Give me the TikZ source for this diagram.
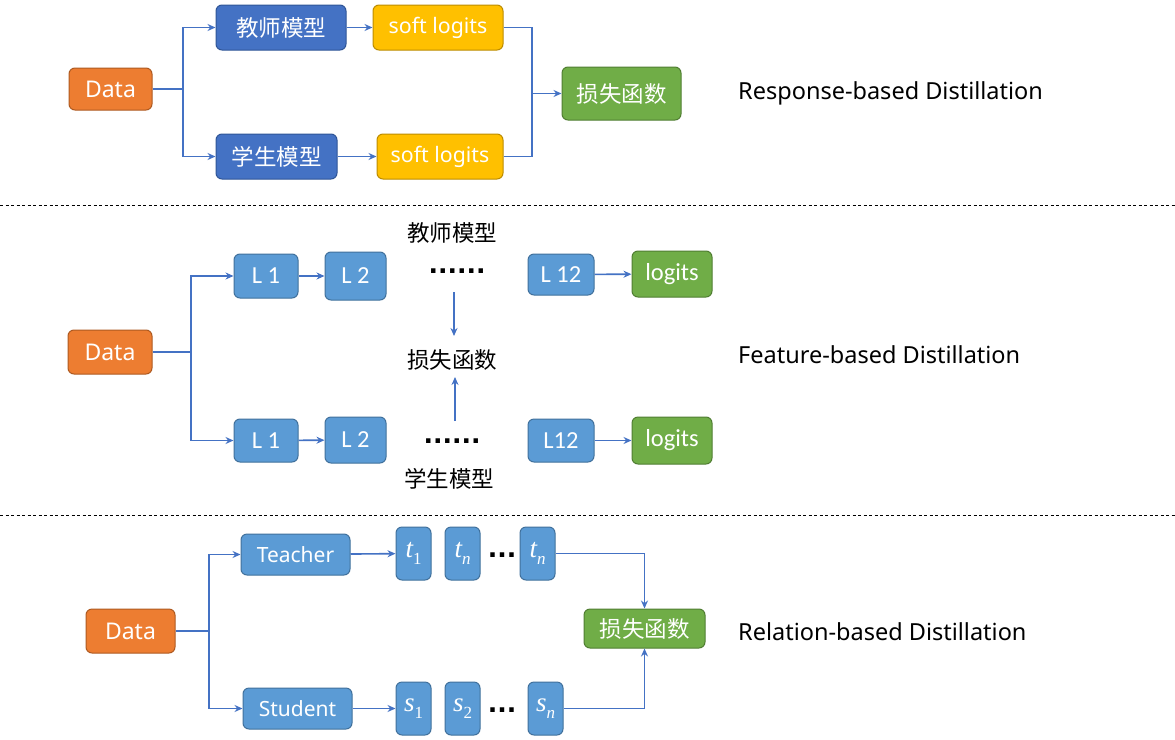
\documentclass[tikz,border=0pt]{standalone}
\usepackage{fontspec}
\setmainfont{Noto Sans}
\newfontfamily\cjk{Noto Sans CJK SC}
\newfontfamily\carl{Carlito}
\newfontfamily\dvb{DejaVu Sans}
\newfontfamily\lsr{Liberation Serif}
\newcommand\mvar[2]{{\lsr\itshape #1}\raisebox{-0.28em}{\fontsize{17}{18}\selectfont\lsr #2}}
\usetikzlibrary{arrows.meta}
\definecolor{lnblue}{HTML}{4472C4}
\definecolor{dkblue}{HTML}{4472C4}
\definecolor{dkblueb}{HTML}{2F5597}
\definecolor{ltblue}{HTML}{5B9BD5}
\definecolor{ltblueb}{HTML}{41719C}
\definecolor{orng}{HTML}{ED7D31}
\definecolor{orngb}{HTML}{AE5A21}
\definecolor{yell}{HTML}{FFC000}
\definecolor{yellb}{HTML}{BC8C00}
\definecolor{grn}{HTML}{70AD47}
\definecolor{grnb}{HTML}{507E32}
\tikzset{
  box/.style={rounded corners=6pt, line width=1pt, text=white, inner sep=0pt, align=center},
  obox/.style={box, fill=orng, draw=orngb, font=\fontsize{23}{26}\selectfont},
  dbox/.style={box, fill=dkblue, draw=dkblueb, font=\cjk\fontsize{22.5}{25}\selectfont},
  ybox/.style={box, fill=yell, draw=yellb, font=\fontsize{21.3}{24}\selectfont},
  gbox/.style={box, fill=grn, draw=grnb, font=\cjk\fontsize{22.5}{25}\selectfont},
  lbox/.style={box, fill=ltblue, draw=ltblueb, font=\carl\fontsize{24.5}{27}\selectfont},
  lgbox/.style={box, fill=grn, draw=grnb, font=\carl\fontsize{24.5}{27}\selectfont},
  mbox/.style={box, fill=ltblue, draw=ltblueb, font=\fontsize{27}{28}\selectfont},
  conn/.style={draw=lnblue, line width=1.6pt},
  arr/.style={conn, -{Stealth[length=8pt,width=7pt]}},
  ttl/.style={font=\fontsize{23.5}{26}\selectfont, anchor=west, inner sep=0pt},
  clab/.style={font=\cjk\fontsize{22.5}{25}\selectfont, inner sep=0pt},
  dots/.style={font=\dvb\bfseries\fontsize{25}{28}\selectfont, inner sep=0pt, anchor=base},
  sep/.style={draw=black, line width=0.8pt, dash pattern=on 3pt off 2.5pt}
}
\begin{document}
\begin{tikzpicture}[x=1pt,y=-1pt]
\useasboundingbox (0,0) rectangle (1175,739);
\fill[white] (0,0) rectangle (1175,739);

% ---------- Response-based ----------
\node[obox, minimum width=83pt, minimum height=42pt] (d1) at (110.5,89) {Data};
\node[dbox, minimum width=130pt, minimum height=45pt] (te1) at (281,27.5) {教师模型};
\node[ybox, minimum width=130pt, minimum height=45pt] (so1) at (438,27.5) {soft logits};
\node[dbox, minimum width=121pt, minimum height=45pt] (st1) at (276.5,156.5) {学生模型};
\node[ybox, minimum width=126pt, minimum height=45pt] (so2) at (440,156.5) {soft logits};
\node[gbox, minimum width=119pt, minimum height=53pt] (lo1) at (621.5,93.5) {损失函数};
\node[ttl] (r1) at (738,93) {Response-based Distillation};
\coordinate (j1) at (183,89);
\coordinate (j2) at (532,93.5);
\draw[conn] (d1.east) -- (j1);
\draw[arr] (j1) |- (te1.west);
\draw[arr] (j1) |- (st1.west);
\draw[arr] (te1) -- (so1);
\draw[arr] (st1) -- (so2);
\draw[conn] (so1.east) -| (j2);
\draw[conn] (so2.east) -| (j2);
\draw[arr] (j2) -- (lo1.west);

\draw[sep] (0,205) -- (1175,205);

% ---------- Feature-based ----------
\node[obox, minimum width=84pt, minimum height=44pt] (d2) at (110,352) {Data};
\coordinate (j3) at (191,352);
\node[lbox, minimum width=64pt, minimum height=44pt] (l1a) at (266,276) {L 1};
\node[lbox, minimum width=61pt, minimum height=48pt] (l2a) at (355.5,276) {L 2};
\node[dots] (dA) at (457,273) {......};
\node[lbox, minimum width=66pt, minimum height=41pt] (l12a) at (561,274.5) {L 12};
\node[lgbox, minimum width=80pt, minimum height=46pt] (lga) at (672,274) {logits};
\node[clab] (tm) at (452,233) {教师模型};
\node[clab] (lm) at (452,360) {损失函数};
\node[clab] (sm) at (449,479) {学生模型};
\node[lbox, minimum width=64pt, minimum height=43pt] (l1b) at (266,440.5) {L 1};
\node[lbox, minimum width=61pt, minimum height=46pt] (l2b) at (355.5,440) {L 2};
\node[dots] (dB) at (452,443) {......};
\node[lbox, minimum width=66pt, minimum height=43pt] (l12b) at (561,440.5) {L12};
\node[lgbox, minimum width=80pt, minimum height=47pt] (lgb) at (672,440.5) {logits};
\node[ttl] (r2) at (738,355) {Feature-based Distillation};
\coordinate (m1) at (454,292);
\coordinate (m2) at (454,336);
\coordinate (m3) at (455,421);
\coordinate (m4) at (455,377);
\draw[conn] (d2.east) -- (j3);
\draw[arr] (j3) |- (l1a.west);
\draw[arr] (j3) |- (l1b.west);
\draw[arr] (l1a) -- (l2a);
\draw[arr] (l1b) -- (l2b);
\draw[arr] (l12a) -- (lga);
\draw[arr] (l12b) -- (lgb);
\draw[arr] (m1) -- (m2);
\draw[arr] (m3) -- (m4);

\draw[sep] (0,515) -- (1175,515);

% ---------- Relation-based ----------
\node[obox, minimum width=89pt, minimum height=44pt] (d3) at (130.5,631) {Data};
\coordinate (j5) at (209,631);
\node[lbox, minimum width=109pt, minimum height=41pt, font=\fontsize{21}{24}\selectfont] (te3) at (295.5,554.5) {Teacher};
\node[lbox, minimum width=109pt, minimum height=41pt, font=\fontsize{21}{24}\selectfont] (st3) at (297.5,708.5) {Student};
\node[mbox, minimum width=35pt, minimum height=53pt] (t1) at (413.5,553.5) {\mvar{t}{1}};
\node[mbox, minimum width=35pt, minimum height=53pt] (t2) at (462.5,553.5) {\mvar{t}{\itshape n}};
\node[dots] (dC) at (502,557) {...};
\node[mbox, minimum width=35pt, minimum height=53pt] (t3) at (537.5,553.5) {\mvar{t}{\itshape n}};
\node[gbox, minimum width=121pt, minimum height=39pt] (lo3) at (644.5,628.5) {损失函数};
\node[mbox, minimum width=35pt, minimum height=53pt] (s1) at (413.5,708.5) {\mvar{s}{1}};
\node[mbox, minimum width=35pt, minimum height=53pt] (s2) at (462.5,708.5) {\mvar{s}{2}};
\node[dots] (dD) at (502,712) {...};
\node[mbox, minimum width=35pt, minimum height=53pt] (s3) at (545.5,708.5) {\mvar{s}{\itshape n}};
\node[ttl] (r3) at (738,632) {Relation-based Distillation};
\draw[conn] (d3.east) -- (j5);
\draw[arr] (j5) |- (te3.west);
\draw[arr] (j5) |- (st3.west);
\draw[arr] (te3) -- (t1);
\draw[arr] (st3) -- (s1);
\draw[arr] (t3.east) -| (lo3.north);
\draw[arr] (s3.east) -| (lo3.south);
\end{tikzpicture}
\end{document}
